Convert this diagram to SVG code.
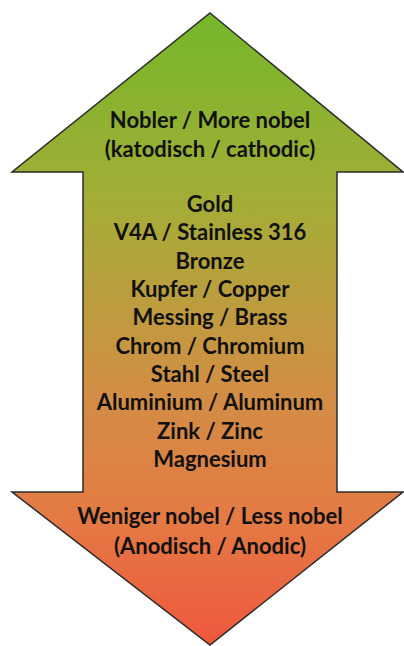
<svg xmlns="http://www.w3.org/2000/svg" width="404" height="646" viewBox="0 0 404 646">
<defs>
<linearGradient id="g" x1="0" y1="13" x2="0" y2="645" gradientUnits="userSpaceOnUse">
<stop offset="0" stop-color="#74b72a"/>
<stop offset="0.3" stop-color="#a4ad36"/>
<stop offset="0.6" stop-color="#d28e45"/>
<stop offset="0.8" stop-color="#e47a44"/>
<stop offset="1" stop-color="#ef573d"/>
</linearGradient>
<style>
text{font-family:Lato,"Liberation Sans",sans-serif;font-weight:bold;font-size:22px;fill:#111;text-anchor:middle}
</style>
</defs>
<g id="arrow">
<path d="M210 13 L403 172 L337 172 L337 492 L403 492 L210 645 L12 492 L83 492 L83 172 L12 172 Z" fill="url(#g)" stroke="#2b2b2b" stroke-width="1.5" stroke-linejoin="miter"/>
</g>
<g id="top-label">
<text x="210" y="128">Nobler / More nobel</text>
<text x="210" y="157">(katodisch / cathodic)</text>
</g>
<g id="metals">
<text x="210" y="212">Gold</text>
<text x="210" y="240">V4A / Stainless 316</text>
<text x="210" y="269">Bronze</text>
<text x="210" y="297">Kupfer / Copper</text>
<text x="210" y="325">Messing / Brass</text>
<text x="210" y="354">Chrom / Chromium</text>
<text x="210" y="382">Stahl / Steel</text>
<text x="210" y="410">Aluminium / Aluminum</text>
<text x="210" y="439">Zink / Zinc</text>
<text x="210" y="467">Magnesium</text>
</g>
<g id="bottom-label">
<text x="210" y="524">Weniger nobel / Less nobel</text>
<text x="210" y="554">(Anodisch / Anodic)</text>
</g>
</svg>
